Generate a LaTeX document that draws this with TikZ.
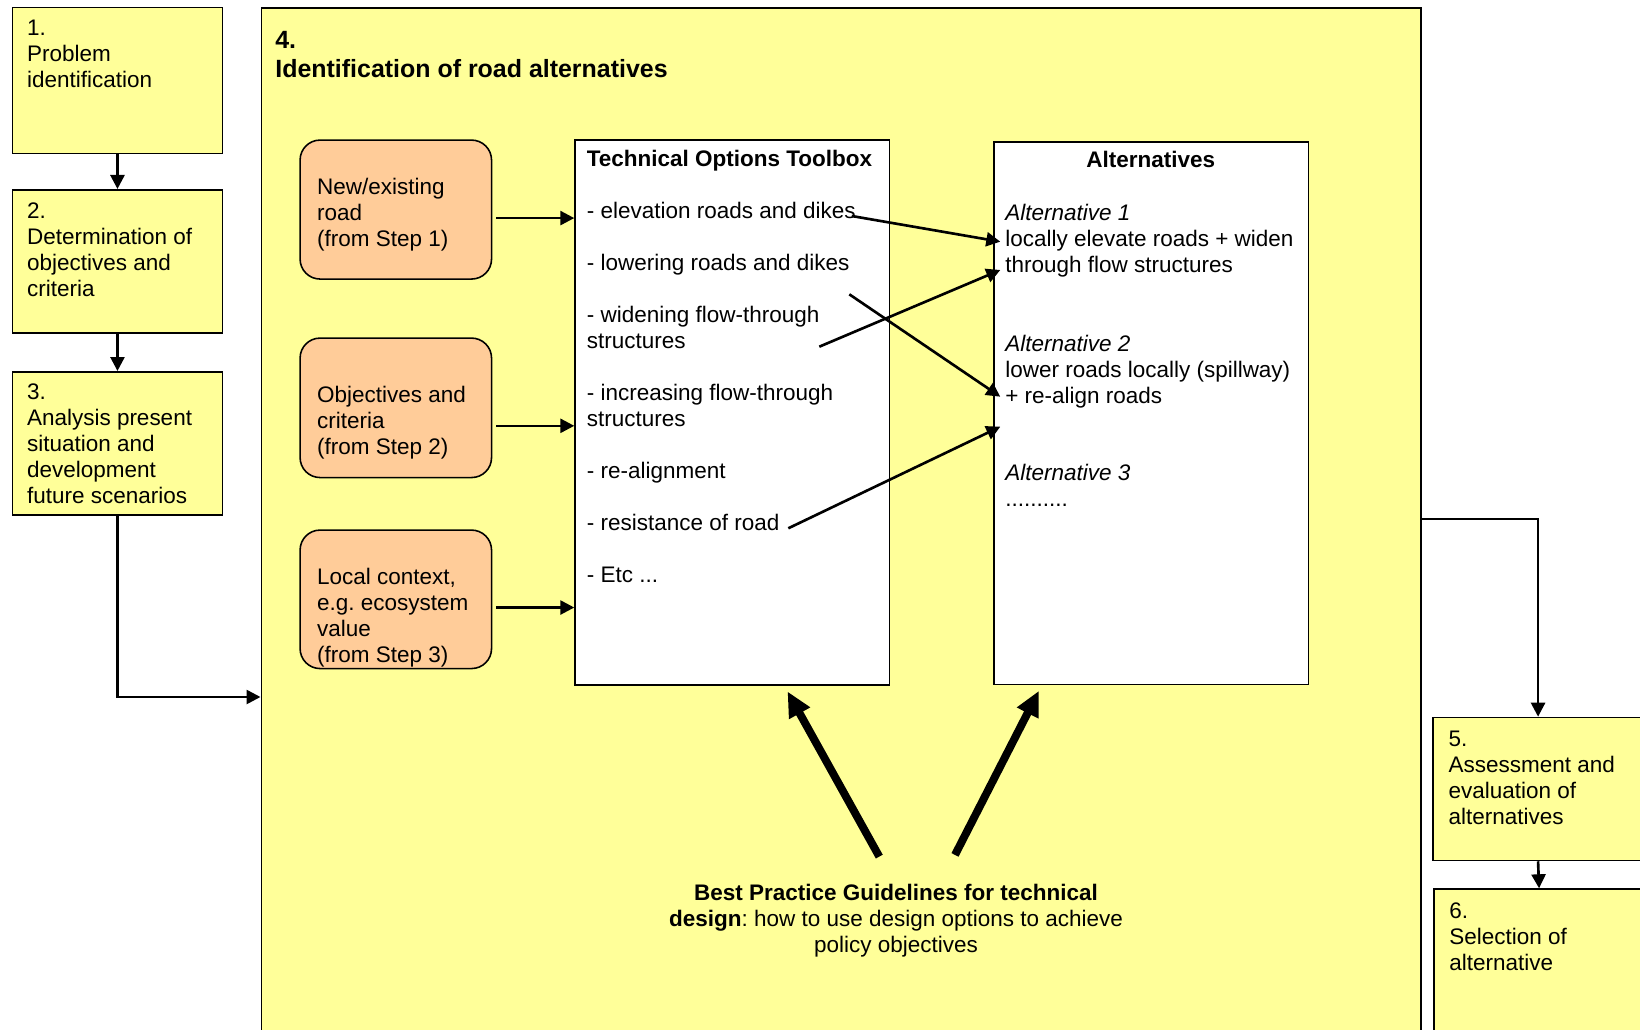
\documentclass[tikz,border=0pt]{standalone}
\usepackage{fontspec}
\setmainfont{Liberation Sans}
\usepackage{tikz}
\usetikzlibrary{arrows.meta,calc}
\definecolor{StepYellow}{RGB}{255,255,153}
\definecolor{InputOrange}{RGB}{255,204,153}
\newcommand\stepfont{\fontsize{12.8pt}{14.8pt}\selectfont}
\newcommand\headfont{\fontsize{14.2pt}{16.7pt}\selectfont\bfseries}
\frenchspacing

\begin{document}
\begin{tikzpicture}[x=0.02cm,y=-0.02cm,>={Triangle[length=0.28cm,width=0.28cm]},
  stepbox/.style={draw,line width=0.9pt,fill=StepYellow,anchor=north west,inner sep=0pt,minimum width=4.2cm},
  inbox/.style={draw,line width=0.9pt,fill=InputOrange,rounded corners=0.4cm,anchor=north west,inner sep=0pt,minimum width=3.83cm},
  listbox/.style={draw,line width=0.9pt,fill=white,anchor=north west,inner sep=0pt,minimum width=6.29cm},
  txt/.style={anchor=north west,inner sep=0pt,align=left,font=\stepfont},
  flow/.style={->,line width=1.5pt},
  bigflow/.style={-{Triangle[length=0.5cm,width=0.45cm]},line width=4.5pt}]
  % page of 1640 x 1030 px, 1 px = 0.02 cm, y runs downwards
  \useasboundingbox (0,0) rectangle (1640,1030);
  \clip (0,0) rectangle (1640,1030);
  \fill[white] (0,0) rectangle (1640,1030);

  % step 4: the large frame
  \node[stepbox,minimum width=23.2cm,minimum height=20.8cm] (s4) at (260.5,7) {};
  \node[txt,font=\headfont] (t4) at (275,27.7) {\strut 4.\\Identification of road alternatives};

  % steps 1-3 on the left
  \node[stepbox,minimum height=2.92cm] (s1) at (11.7,6.7) {};
  \node[stepbox,minimum height=2.86cm] (s2) at (11.7,189) {};
  \node[stepbox,minimum height=2.86cm] (s3) at (11.7,371) {};
  \node[txt] (t1) at (26.7,16.7) {\strut 1.\\Problem\\identification};
  \node[txt] (t2) at (26.7,199.7) {\strut 2.\\Determination of\\objectives and\\criteria};
  \node[txt] (t3) at (26.7,380.7) {\strut 3.\\Analysis present\\situation and\\development\\future scenarios};

  % inputs
  \node[inbox,minimum height=2.78cm] (o1) at (299.3,139.3) {};
  \node[inbox,minimum height=2.79cm] (o2) at (299.3,337.3) {};
  \node[inbox,minimum height=2.77cm] (o3) at (299.3,529.3) {};
  \node[txt] (u1) at (316.7,176) {\strut New/existing\\road\\(from Step 1)};
  \node[txt] (u2) at (316.7,383.5) {\strut Objectives and\\criteria\\(from Step 2)};
  \node[txt] (u3) at (316.7,566) {\strut Local context,\\e.g. ecosystem\\value\\(from Step 3)};

  % toolbox
  \node[listbox,minimum height=10.9cm] (tools) at (574.3,139.3) {};
  \node[txt] (tl) at (586.5,147.7) {\strut\textbf{Technical Options Toolbox}\\[14.8pt]
    - elevation roads and dikes\\[14.8pt]
    - lowering roads and dikes\\[14.8pt]
    - widening flow-through\\structures\\[14.8pt]
    - increasing flow-through\\structures\\[14.8pt]
    - re-alignment\\[14.8pt]
    - resistance of road\\[14.8pt]
    - Etc ...};

  % alternatives
  \node[listbox,minimum height=10.86cm] (alts) at (993.3,141) {};
  \node[anchor=base,inner sep=0pt,font=\stepfont\bfseries] (ah) at (1150.8,167.8) {Alternatives};
  \node[txt] (a1) at (1005,202.4) {\strut\textit{Alternative 1}\\locally elevate roads + widen\\through flow structures};
  \node[txt] (a2) at (1005,332.8) {\strut\textit{Alternative 2}\\lower roads locally (spillway)\\+ re-align roads};
  \node[txt] (a3) at (1005,461.5) {\strut\textit{Alternative 3}\\..........};

  % steps 5 and 6 on the right
  \node[stepbox,minimum height=2.86cm] (s5) at (1432.3,716.7) {};
  \node[stepbox,minimum height=2.92cm] (s6) at (1433.3,888.3) {};
  \node[txt] (t5) at (1448.3,727.7) {\strut 5.\\Assessment and\\evaluation of\\alternatives};
  \node[txt] (t6) at (1449,899.5) {\strut 6.\\Selection of\\alternative};

  % guidelines
  \node[anchor=north,inner sep=0pt,align=center,font=\stepfont] (guide) at (896,881.7)
    {\strut\textbf{Best Practice Guidelines for technical}\\\textbf{design}: how to use design options to achieve\\policy objectives};

  % main flow
  \draw[flow] (s1.south) -- (s2.north);
  \draw[flow] (s2.south) -- (s3.north);
  \draw[flow] (s3.south) |- (s4.west |- 0,697);
  \draw[flow] (s4.east |- 0,519) -| (s5.north);
  \draw[flow] (s5.south) -- (s6.north);

  % inputs into the toolbox
  \draw[flow] ($(o1.east)+(4,8.5)$) -- ($(o1.east -| tools.west)+(0,8.5)$);
  \draw[flow] ($(o2.east)+(4,18)$) -- ($(o2.east -| tools.west)+(0,18)$);
  \draw[flow] ($(o3.east)+(4,8.2)$) -- ($(o3.east -| tools.west)+(0,8.2)$);

  % options combined into alternatives
  \coordinate (c1) at (851.7,216);
  \coordinate (c2) at (819.3,346.7);
  \coordinate (c3) at (849.3,294.3);
  \coordinate (c4) at (788.3,528.3);
  \draw[flow] (c1) -- ($(alts.north west)+(7,100.7)$);
  \draw[flow] (c2) -- ($(alts.north west)+(7,129)$);
  \draw[flow] (c3) -- ($(alts.north west)+(7,255.7)$);
  \draw[flow] (c4) -- ($(alts.north west)+(7,285.7)$);

  % guidelines feed both boxes
  \draw[bigflow] ($(guide.north)+(-16.7,-25.1)$) -- ($(tools.south)+(55.2,5.7)$);
  \draw[bigflow] ($(guide.north)+(59,-26.8)$) -- ($(alts.south)+(-112.3,5.3)$);
\end{tikzpicture}
\end{document}
